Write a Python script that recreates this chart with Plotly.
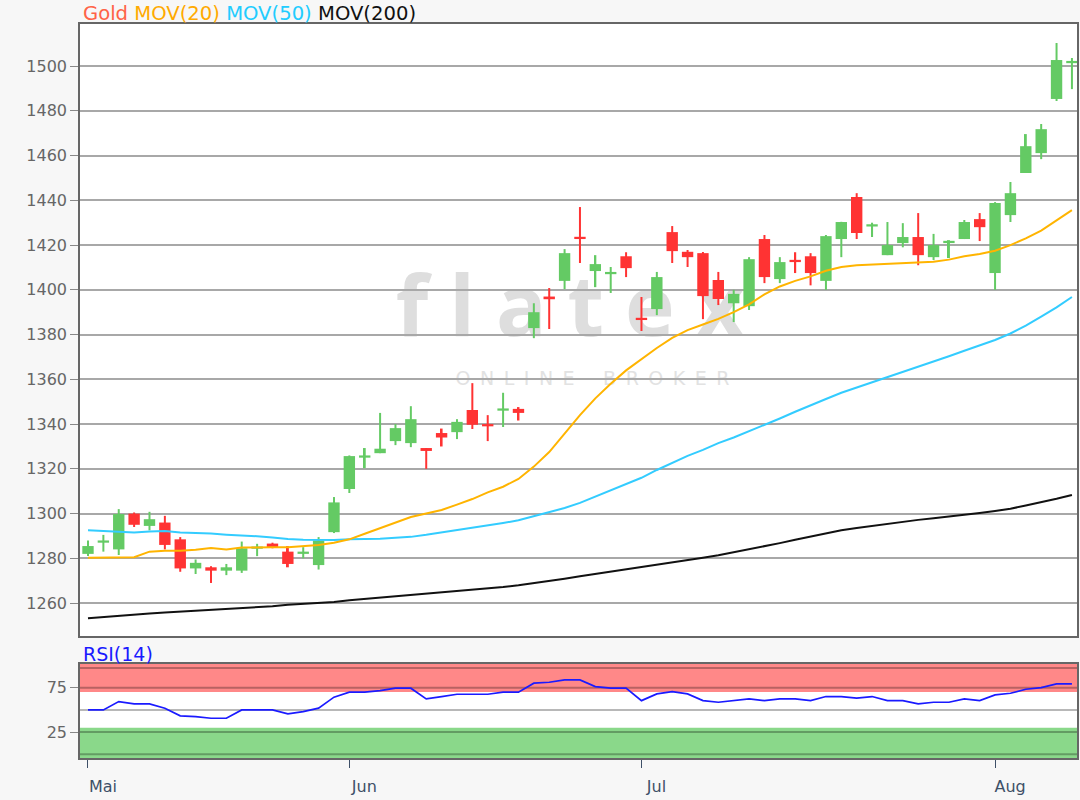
import plotly.graph_objects as go

# ---------------- data ----------------
month_labels = ["Mai", "Jun", "Jul", "Aug"]
month_start_idx = [0, 17, 36, 59]

gold_open = [1282, 1287, 1284, 1300, 1294.5, 1296, 1288.5, 1275.5, 1276, 1274.5,
             1274.5, 1284.3, 1286.6, 1283, 1282, 1277, 1291.7, 1311, 1325, 1327,
             1332.4, 1331.5, 1329.3, 1336, 1336.4, 1346.3, 1339.5, 1346, 1346.8, 1382.9,
             1397, 1404, 1423.3, 1408.4, 1407, 1415, 1387, 1391.4, 1425.8, 1417,
             1416.4, 1404.4, 1394, 1392.7, 1422.7, 1404.8, 1413.3, 1415, 1404, 1422.7,
             1441.5, 1428.3, 1415.5, 1420.9, 1423.6, 1414.6, 1420.9, 1422.7, 1431.6, 1407.5,
             1433.4, 1452.2, 1461.1, 1485.3, 1501.3]
gold_high = [1288, 1290.5, 1302, 1300.5, 1300.8, 1299, 1289.5, 1279.5, 1276.5, 1277.5,
             1287.5, 1286.5, 1287, 1285.5, 1285, 1289.5, 1307.4, 1326, 1329.3, 1345,
             1340, 1348, 1329.3, 1338, 1342.2, 1358.3, 1344, 1354, 1347.6, 1394,
             1400.8, 1418.2, 1437, 1415.5, 1410.2, 1416.8, 1396.8, 1408, 1428.5, 1417.8,
             1416.9, 1408, 1400, 1414.6, 1424.5, 1414.6, 1416.8, 1416.4, 1424.5, 1430.4,
             1443.2, 1430, 1430.3, 1429.8, 1434.3, 1425, 1422.2, 1431.2, 1434.3, 1439.2,
             1448.2, 1469.6, 1474.1, 1510.3, 1503.6]
gold_low = [1281, 1283, 1281.5, 1294, 1292.5, 1284, 1274, 1273, 1269, 1272.5,
            1273.5, 1281, 1284.5, 1276, 1280, 1275, 1291.3, 1309.2, 1320.3, 1327,
            1330.6, 1329.7, 1320, 1330, 1333.3, 1337.8, 1332.4, 1338.7, 1341.6, 1378.4,
            1382.5, 1400.3, 1412, 1401.2, 1398.6, 1405.7, 1381.6, 1388.7, 1412, 1410.2,
            1386.9, 1393.2, 1385.6, 1391, 1403, 1403, 1407.5, 1402, 1400, 1414.6,
            1422.7, 1423.6, 1415.5, 1419, 1411, 1413.3, 1414.2, 1422.7, 1421.8, 1400,
            1430.3, 1452.2, 1458.4, 1484.4, 1489.7]
gold_close = [1285.5, 1288, 1299.8, 1295, 1297.5, 1286, 1275.5, 1278, 1274.5, 1276,
              1284.5, 1284.8, 1285, 1277.5, 1282.5, 1288, 1305, 1325.7, 1326, 1329,
              1338.2, 1342.2, 1328, 1334, 1341, 1339.7, 1339, 1346.3, 1345, 1390,
              1395.8, 1416.4, 1422.7, 1411.5, 1407.7, 1409.7, 1386.5, 1405.7, 1417.3, 1414.6,
              1397.2, 1395.9, 1398.2, 1413.7, 1405.7, 1412.4, 1412.4, 1407.5, 1424, 1430.3,
              1425.4, 1428.7, 1420, 1423.6, 1415.5, 1420, 1421.8, 1430.3, 1428, 1438.8,
              1443.2, 1464.2, 1471.8, 1502.7, 1501.8]

mov20 = [1280.3, 1280.3, 1280.3, 1280.5, 1283, 1283.4, 1283.4, 1283.8, 1284.6, 1284,
         1284.8, 1285, 1285, 1285, 1285.5, 1286, 1287, 1288.5, 1291, 1293.5,
         1296, 1298.5, 1300, 1301.6, 1304, 1306.5, 1309.5, 1312, 1315.5, 1321,
         1327.5, 1336, 1344, 1351.5, 1358, 1364, 1369, 1374, 1378.5, 1382,
         1384.5, 1387, 1390, 1393.5, 1398, 1401.5, 1404, 1406, 1408.5, 1410.2,
         1411, 1411.3, 1411.5, 1411.7, 1412, 1412.5, 1413.5, 1415, 1416, 1417.5,
         1420, 1423, 1426.5, 1431, 1435.6]
mov50 = [1292.6, 1292.2, 1291.8, 1291.5, 1292, 1292.2, 1291.6, 1291.4, 1291.1, 1290.6,
         1290.3, 1289.9, 1289.3, 1288.6, 1288.3, 1288.2, 1288.2, 1288.5, 1288.6, 1288.8,
         1289.2, 1289.6, 1290.5, 1291.5, 1292.5, 1293.6, 1294.8, 1295.8, 1297, 1298.8,
         1300.6, 1302.5, 1304.8, 1307.6, 1310.5, 1313.3, 1316, 1319.5, 1322.8, 1325.8,
         1328.5, 1331.5, 1334, 1336.8, 1339.5, 1342.5, 1345.5, 1348.5, 1351.2, 1354,
         1356.3, 1358.6, 1361, 1363.5, 1365.5, 1367.8, 1370.3, 1372.8, 1375.2, 1377.6,
         1380.5, 1384, 1388, 1392.2, 1396.8]
mov200 = [1253.2, 1253.8, 1254.3, 1254.8, 1255.3, 1255.8, 1256.2, 1256.6, 1256.9, 1257.2,
          1257.5, 1258, 1258.6, 1259.3, 1259.7, 1260, 1260.5, 1261.3, 1261.9, 1262.5,
          1263.1, 1263.6, 1264.1, 1264.6, 1265.2, 1265.8, 1266.5, 1267.2, 1268, 1268.9,
          1269.9, 1270.9, 1272, 1273, 1274, 1275, 1276, 1277, 1278.1, 1279.2,
          1280.3, 1281.4, 1282.7, 1284, 1285.4, 1286.8, 1288.3, 1289.8, 1291.2, 1292.6,
          1293.6, 1294.5, 1295.3, 1296.5, 1297.2, 1297.9, 1298.6, 1299.5, 1300.3, 1301.2,
          1302.2, 1303.6, 1305, 1306.6, 1308.3]
rsi14 = [50, 50, 59.3, 56.7, 56.7, 51.9, 43.3, 42.5, 40.6, 40.6,
         50, 50, 50, 45.5, 48.1, 51.9, 64.3, 69.9, 69.9, 71.7,
         74.4, 74.4, 62.4, 65, 67.6, 67.6, 67.6, 69.9, 69.9, 80,
         81.1, 83.7, 83.7, 76.2, 74.4, 74.4, 60.4, 68, 70.6, 68,
         60.4, 58.6, 60.4, 62.4, 60.4, 62.4, 62.4, 60.4, 65, 65,
         63.2, 65, 60.4, 60.4, 56.7, 58.6, 58.6, 62.4, 60.4, 66.9,
         68.7, 73.2, 75, 79.2, 79.2]

price_ticks = [1260, 1280, 1300, 1320, 1340, 1360, 1380, 1400, 1420, 1440, 1460, 1480, 1500]
rsi_ticks = [25, 75]
rsi_lines = [0, 25, 50, 75, 97]
rsi_overbought = [70, 101.6]
rsi_oversold = [-4.1, 30]

# ---------------- styling ----------------
W, H = 1080, 800
FONT = "DejaVu Sans"
GREEN = "#64ca64"
RED = "#ff3333"

def fx(p):
    return p / W

def fy(p):
    return 1 - p / H

idx = list(range(len(gold_open)))
colors = [GREEN if c >= o else RED for o, c in zip(gold_open, gold_close)]
wick_len = [h - l for h, l in zip(gold_high, gold_low)]
body_base = [min(o, c) for o, c in zip(gold_open, gold_close)]
body_len = [max(abs(c - o), 1.0) for o, c in zip(gold_open, gold_close)]

fig = go.Figure()
fig.add_trace(go.Bar(x=idx, y=wick_len, base=gold_low, width=0.13,
                     marker=dict(color=colors, line=dict(width=0)),
                     xaxis="x", yaxis="y", hoverinfo="skip", name="wick"))
fig.add_trace(go.Bar(x=idx, y=body_len, base=body_base, width=0.74,
                     marker=dict(color=colors, line=dict(width=0)),
                     xaxis="x", yaxis="y", name="Gold"))
fig.add_trace(go.Scatter(x=idx, y=mov200, mode="lines", line=dict(color="#111111", width=2),
                         xaxis="x", yaxis="y", name="MOV(200)"))
fig.add_trace(go.Scatter(x=idx, y=mov50, mode="lines", line=dict(color="#33ccff", width=2),
                         xaxis="x", yaxis="y", name="MOV(50)"))
fig.add_trace(go.Scatter(x=idx, y=mov20, mode="lines", line=dict(color="#ffb400", width=2),
                         xaxis="x", yaxis="y", name="MOV(20)"))
fig.add_trace(go.Scatter(x=idx, y=rsi14, mode="lines", line=dict(color="#1a1aff", width=1.7),
                         xaxis="x2", yaxis="y2", name="RSI(14)"))

xdom = [fx(80), fx(1077)]
xrange = [-0.52, 64.33]
border = dict(showline=True, mirror=True, linecolor="#666666", linewidth=1.5, zeroline=False)

shapes = []
# watermark (below gridlines)
shapes.append(dict(type="rect", xref="paper", yref="paper", x0=fx(385), x1=fx(755),
                   y0=fy(352), y1=fy(267), line=dict(width=0), fillcolor="rgba(0,0,0,0)",
                   layer="below",
                   label=dict(text="f\u2005l\u2005a\u2005t\u2005e\u2005x", textposition="middle center",
                              font=dict(family="Open Sans", size=84, color="#dedede", weight="bold"))))
shapes.append(dict(type="rect", xref="paper", yref="paper", x0=fx(420), x1=fx(765),
                   y0=fy(390), y1=fy(364), line=dict(width=0), fillcolor="rgba(0,0,0,0)",
                   layer="below",
                   label=dict(text="O\u2002N\u2002L\u2002I\u2002N\u2002E\u2002\u2002\u2002B\u2002R\u2002O\u2002K\u2002E\u2002R",
                              textposition="middle center",
                              font=dict(family=FONT, size=19, color="#e2e2e2"))))
# RSI bands
shapes.append(dict(type="rect", xref="x2 domain", yref="y2", x0=0, x1=1,
                   y0=rsi_overbought[0], y1=rsi_overbought[1], fillcolor="#ff8888",
                   line=dict(width=0), layer="below"))
shapes.append(dict(type="rect", xref="x2 domain", yref="y2", x0=0, x1=1,
                   y0=rsi_oversold[0], y1=rsi_oversold[1], fillcolor="#8ad88a",
                   line=dict(width=0), layer="below"))
for v in rsi_lines:
    shapes.append(dict(type="line", xref="x2 domain", yref="y2", x0=0, x1=1, y0=v, y1=v,
                       line=dict(color="rgba(0,0,0,0.28)", width=2), layer="below"))

legend_text = ("<span style='color:#ff6347'>Gold</span> "
               "<span style='color:#ffaa00'>MOV(20)</span> "
               "<span style='color:#22ccff'>MOV(50)</span> "
               "<span style='color:#111111'>MOV(200)</span>")

fig.update_layout(
    width=W, height=H,
    margin=dict(l=0, r=0, t=0, b=0),
    paper_bgcolor="#f7f7f7", plot_bgcolor="#ffffff",
    font=dict(family=FONT),
    showlegend=False,
    barmode="overlay",
    xaxis=dict(domain=xdom, range=xrange, anchor="y", showticklabels=False, ticks="",
               showgrid=False, **border),
    yaxis=dict(domain=[fy(636), fy(24)], range=[1245.3, 1518.8], anchor="x",
               tickvals=price_ticks, ticks="outside", ticklen=8, tickcolor="#888888",
               tickfont=dict(family=FONT, size=16, color="#666666"),
               showgrid=True, gridcolor="#a8a8a8", gridwidth=2, **border),
    xaxis2=dict(domain=xdom, range=xrange, anchor="y2", matches="x",
                tickvals=month_start_idx, ticktext=month_labels, ticks="outside", ticklen=8,
                tickcolor="#3e5068", tickfont=dict(family=FONT, size=16, color="#3e5068"),
                ticklabelshift=15, ticklabelstandoff=5, showgrid=False, **border),
    yaxis2=dict(domain=[fy(758), fy(664)], range=[rsi_oversold[0], rsi_overbought[1]], anchor="x2",
                tickvals=rsi_ticks, ticks="outside", ticklen=8, tickcolor="#888888",
                tickfont=dict(family=FONT, size=16, color="#666666"),
                showgrid=False, **border),
    shapes=shapes,
    annotations=[
        dict(text=legend_text, xref="paper", yref="paper", x=fx(81), y=fy(14),
             xanchor="left", yanchor="middle", showarrow=False,
             font=dict(family=FONT, size=19.6)),
        dict(text="RSI(14)", xref="paper", yref="paper", x=fx(81), y=fy(654),
             xanchor="left", yanchor="middle", showarrow=False,
             font=dict(family=FONT, size=19, color="#1a1aff")),
    ],
)

fig.write_html("out.html", config={"displayModeBar": False},
               post_script="document.body.style.margin='0px';")
